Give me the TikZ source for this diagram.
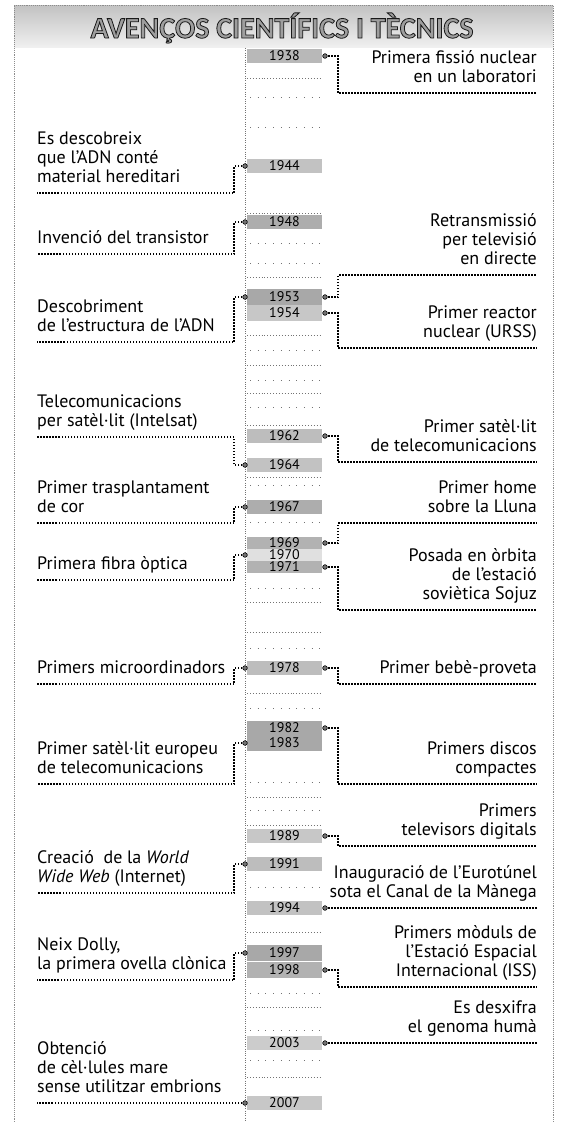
\documentclass[tikz,border=0pt]{standalone}
\usepackage{fontspec}
\setmainfont{PT Sans}
\newfontfamily\titlefont{Carlito}
\newcommand\txtf{\fontsize{18}{19}\selectfont}
\newcommand\yrf{\fontsize{14}{14}\selectfont}
\newcommand\dep{\rule[-5pt]{0pt}{5pt}}
\begin{document}
\begin{tikzpicture}[x=1pt,y=-1pt,
  lt/.style={anchor=south west,inner sep=0pt,align=left,font=\txtf},
  rt/.style={anchor=south east,inner sep=0pt,align=right,font=\txtf},
  yrbox/.style={fill=black!28,minimum width=75pt,minimum height=14pt,inner sep=0pt,font=\yrf},
  conn/.style={line width=1.5pt,dash pattern=on 1.5pt off 1.5pt},
  dotn/.style={circle,draw=black,fill=black!55,line width=0.6pt,inner sep=0pt,minimum size=4.6pt},
  tick/.style={black!55,line width=0.6pt,dash pattern=on 0.7pt off 2.2pt},
  stick/.style={black!55,line width=0.6pt,dash pattern=on 0.7pt off 7pt},
  tline/.style={black!55,line width=0.7pt,dash pattern=on 0.7pt off 1.6pt},
  frame/.style={black!45,line width=0.6pt,dash pattern=on 0.7pt off 1.2pt}]
\useasboundingbox (0,0) rectangle (560,1122);
% title band
\shade[top color=black!24,bottom color=black!6] (14,5) rectangle (553,47);
\draw[frame] (14,1122) -- (14,5) -- (553,5) -- (553,1122);
\node[font=\titlefont\fontsize{30}{30}\selectfont\bfseries,text=black!38,inner sep=0pt] (title) at (282,28)
  {\special{pdf:literal direct 2 Tr 0.8 w 0.1 G}AVENÇOS CIENTÍFICS I TÈCNICS\special{pdf:literal direct 0 Tr 0.4 w}};
% timeline
\draw[tline] (245,48) -- (245,1122);
\foreach \y in {78,213,277,335,365,393,425,477,602,632,693,797,825,932,1007,1077}
  \draw[tick] (247,\y) -- (322,\y);
\foreach \y in {97,127,243,263,350,380,407,485,522,588,648,708,782,810,887,993,1030,1060}
  \draw[stick] (250,\y) -- (322,\y);
% year boxes
\foreach \yr/\y/\h/\f in {1938/56/14/28,1944/166/14/24,1948/222/14/32,1953/297/16/34,1954/313/16/22,
  1962/436/14/26,1964/465/14/24,1967/507/14/32,1969/543/12/30,1970/555/12/12,1971/567/12/30,
  1978/668/14/26,1982/728/15/34,1983/743/15/34,1989/836/14/22,1991/864/14/26,1994/908/14/24,
  1997/953/16/34,1998/970/16/30,2003/1043/14/20,2007/1103/14/22}
  \node[yrbox,minimum height=\h pt,fill=black!\f] (y\yr) at (284.5,\y) {\yr};
% dot anchors
\foreach \yr/\y in {1938/56,1953/297,1954/313,1962/436,1969/543,1971/567,1978/668,1982/728,1989/836,1994/908,1998/970,2003/1043}
  \coordinate (r\yr) at (325,\y);
\foreach \yr/\y in {1944/166,1948/222,1953/297,1964/465,1967/507,1970/555,1978/668,1983/743,1991/864,1997/953,2007/1103}
  \coordinate (l\yr) at (245,\y);
% underline ends
\foreach \yr/\y in {1938/93,1953/275,1954/348,1962/462,1969/523,1971/610,1978/684,1982/784,1989/846,1994/908,1998/987,2003/1043}
  \coordinate (ur\yr) at (537,\y);
\foreach \yr/\y in {1944/193,1948/254,1953/342,1964/437,1967/523,1970/580,1978/684,1983/784,1991/893,1997/980,2007/1103}
  \coordinate (ul\yr) at (37,\y);
% connectors right
\foreach \yr in {1938,1953,1954,1962,1969,1971,1978,1982,1989,1998}
  \draw[conn] (r\yr) -- ++(13,0) |- (ur\yr);
\draw[conn] (r1994) -- (ur1994);
\draw[conn] (r2003) -- (ur2003);
% connectors left
\foreach \yr in {1944,1948,1953,1964,1967,1970,1978,1983,1991,1997}
  \draw[conn] (l\yr) -- ++(-11,0) |- (ul\yr);
\draw[conn] (l2007) -- (ul2007);
% dots
\foreach \yr in {1938,1953,1954,1962,1969,1971,1978,1982,1989,1994,1998,2003}
  \node[dotn] (dr\yr) at (r\yr) {};
\foreach \yr in {1944,1948,1953,1964,1967,1970,1978,1983,1991,1997,2007}
  \node[dotn] (dl\yr) at (l\yr) {};
% right texts
\node[rt] (tr1938) at ([yshift=5pt]ur1938) {Primera fissió nuclear\\en un laboratori\dep};
\node[rt] (tr1953) at ([yshift=5pt]ur1953) {Retransmissió\\per televisió\\en directe\dep};
\node[rt] (tr1954) at ([yshift=5pt]ur1954) {Primer reactor\\nuclear (URSS)\dep};
\node[rt] (tr1962) at ([yshift=5pt]ur1962) {Primer satèl·lit\\de telecomunicacions\dep};
\node[rt] (tr1969) at ([yshift=5pt]ur1969) {Primer home\\sobre la Lluna\dep};
\node[rt] (tr1971) at ([yshift=5pt]ur1971) {Posada en òrbita\\de l'estació\\soviètica Sojuz\dep};
\node[rt] (tr1978) at ([yshift=5pt]ur1978) {Primer bebè-proveta\dep};
\node[rt] (tr1982) at ([yshift=5pt]ur1982) {Primers discos\\compactes\dep};
\node[rt] (tr1989) at ([yshift=5pt]ur1989) {Primers\\televisors digitals\dep};
\node[rt] (tr1994) at ([yshift=5pt]ur1994) {Inauguració de l'Eurotúnel\\sota el Canal de la Mànega\dep};
\node[rt] (tr1998) at ([yshift=5pt]ur1998) {Primers mòduls de\\l'Estació Espacial\\Internacional (ISS)\dep};
\node[rt] (tr2003) at ([yshift=5pt]ur2003) {Es desxifra\\el genoma humà\dep};
% left texts
\node[lt] (tl1944) at ([yshift=5pt]ul1944) {Es descobreix\\que l'ADN conté\\material hereditari\dep};
\node[lt] (tl1948) at ([yshift=5pt]ul1948) {Invenció del transistor\dep};
\node[lt] (tl1953) at ([yshift=5pt]ul1953) {Descobriment\\de l'estructura de l'ADN\dep};
\node[lt] (tl1964) at ([yshift=5pt]ul1964) {Telecomunicacions\\per satèl·lit (Intelsat)\dep};
\node[lt] (tl1967) at ([yshift=5pt]ul1967) {Primer trasplantament\\de cor\dep};
\node[lt] (tl1970) at ([yshift=5pt]ul1970) {Primera fibra òptica\dep};
\node[lt] (tl1978) at ([yshift=5pt]ul1978) {Primers microordinadors\dep};
\node[lt] (tl1983) at ([yshift=5pt]ul1983) {Primer satèl·lit europeu\\de telecomunicacions\dep};
\node[lt] (tl1991) at ([yshift=5pt]ul1991) {Creació\ \ de la \textit{World}\\\textit{Wide Web} (Internet)\dep};
\node[lt] (tl1997) at ([yshift=5pt]ul1997) {Neix Dolly,\\la primera ovella clònica\dep};
\node[lt] (tl2007) at ([yshift=5pt]ul2007) {Obtenció\\de cèl·lules mare\\sense utilitzar embrions\dep};
\end{tikzpicture}
\end{document}
